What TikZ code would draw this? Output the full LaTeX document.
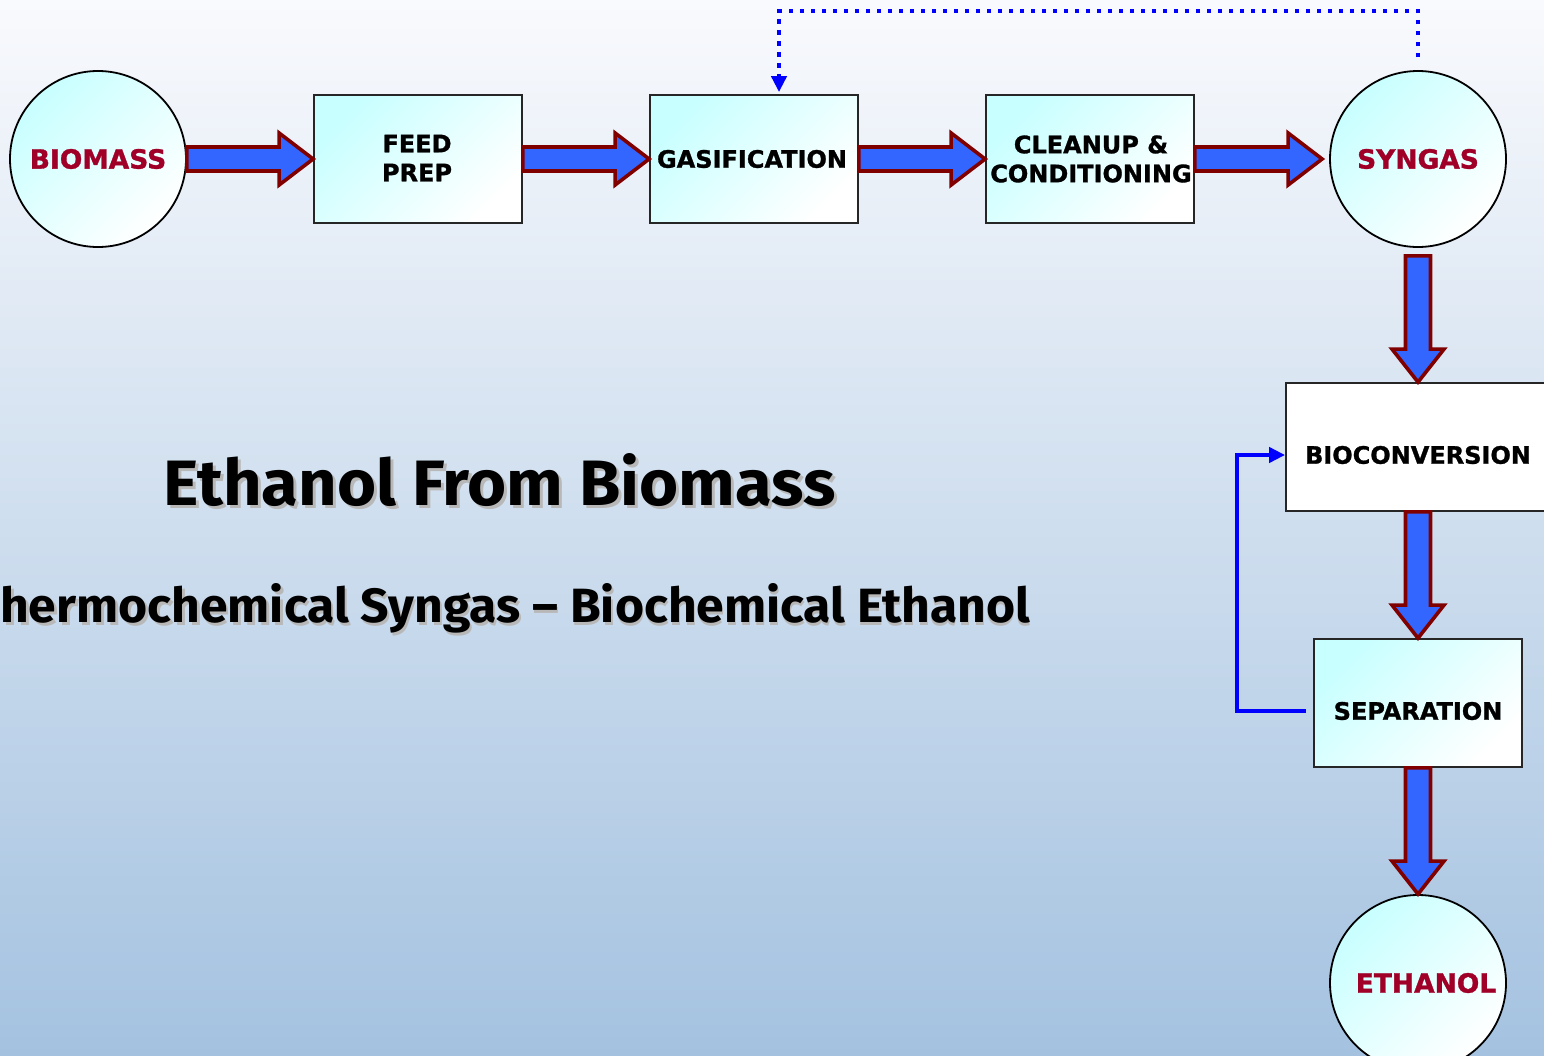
\documentclass[tikz,border=0pt]{standalone}
\usepackage{graphicx}
\usepackage{fontspec}
\setmainfont{DejaVu Sans}[BoldFeatures={FakeBold=1.2}]
\newfontfamily\titlef{Fira Sans}
\usetikzlibrary{calc,arrows.meta}
\definecolor{bgtop}{HTML}{F9FAFD}
\definecolor{bgbot}{HTML}{A4C2E0}
\definecolor{cyanlt}{HTML}{C8FFFF}
\definecolor{txtred}{HTML}{A00028}
\definecolor{arrfill}{HTML}{3366FF}
\definecolor{arredge}{HTML}{800000}
\definecolor{fbblue}{HTML}{0000FF}
\tikzset{
  boxbase/.style={draw=black!85, line width=1.8pt, minimum width=208pt, minimum height=128pt, inner sep=0pt},
  procbox/.style={boxbase, top color=cyanlt, bottom color=white, shading angle=45},
  whitebox/.style={boxbase, fill=white},
  boxtext/.style={inner sep=0pt, align=center, font=\fontsize{24}{29}\selectfont\bfseries},
  endcirc/.style={circle, draw=black, line width=1.8pt, minimum size=176pt, inner sep=0pt, top color=cyanlt, bottom color=white, shading angle=45},
  redtext/.style={inner sep=0pt, text=txtred, font=\fontsize{26.5}{30}\selectfont\bfseries},
  barrow/.style={fill=arrfill, draw=arredge, line width=3.6pt, line join=miter},
  dotline/.style={draw=fbblue, line width=4.5pt, dash pattern=on 4.5pt off 6.5pt},
  fbline/.style={draw=fbblue, line width=4.5pt},
}
\newcommand\hblockarrow[2]{%
  \draw[barrow] ($(#1)+(0,-12)$) -- ($(#2)+(-34,-12)$) -- ($(#2)+(-34,-26)$) -- (#2)
    -- ($(#2)+(-34,26)$) -- ($(#2)+(-34,12)$) -- ($(#1)+(0,12)$) -- cycle;}
\newcommand\vblockarrow[2]{%
  \draw[barrow] ($(#1)+(-12.5,0)$) -- ($(#2)+(-12.5,-33)$) -- ($(#2)+(-26,-33)$) -- (#2)
    -- ($(#2)+(26,-33)$) -- ($(#2)+(12.5,-33)$) -- ($(#1)+(12.5,0)$) -- cycle;}
\begin{document}
\begin{tikzpicture}[x=1pt,y=-1pt]
\useasboundingbox (0,0) rectangle (1544,1055);
\shade[top color=bgtop, bottom color=bgbot] (0,0) rectangle (1544,1055);

% nodes
\node[endcirc] (bio) at (98,159) {};
\node[redtext] (biot) at (bio.center) {BIOMASS};
\node[procbox] (feed) at (418,159) {};
\node[boxtext] (feedt) at ($(feed.center)+(-1,-1)$) {FEED\\PREP};
\node[procbox] (gas) at (754,159) {};
\node[boxtext] (gast) at ($(gas.center)+(-2,0)$) {GASIFICATION};
\node[procbox] (clean) at (1090,159) {};
\node[boxtext] (cleant) at ($(clean.center)+(1,0)$) {CLEANUP \&\\CONDITIONING};
\node[endcirc] (syn) at (1418,159) {};
\node[redtext] (synt) at (syn.center) {SYNGAS};
\node[whitebox, minimum width=264pt] (bioc) at (1418,447) {};
\node[boxtext] (bioct) at ($(bioc.center)+(0,8)$) {BIOCONVERSION};
\node[procbox] (sep) at (1418,703) {};
\node[boxtext] (sept) at ($(sep.center)+(0,8)$) {SEPARATION};
\node[endcirc] (eth) at (1418,983) {};
\node[redtext] (etht) at ($(eth.center)+(8,0)$) {ETHANOL};

% block arrows
\hblockarrow{bio.east}{feed.west}
\hblockarrow{feed.east}{gas.west}
\hblockarrow{gas.east}{clean.west}
\coordinate (synin) at ($(syn.west)+(-7,0)$);
\hblockarrow{clean.east}{synin}
\coordinate (synout) at ($(syn.south)+(0,8)$);
\vblockarrow{synout}{bioc.north}
\vblockarrow{bioc.south}{sep.north}
\vblockarrow{sep.south}{eth.north}

% dotted recycle
\coordinate (d0) at ($(syn.north)+(0,-13)$);
\coordinate (d1) at ($(gas.north)+(25,-2)$);
\draw[dotline, -{Triangle[length=16pt,width=15pt]}] (d0) -- ++(0,-46) -| (d1);

% feedback loop
\coordinate (f0) at ($(sep.west)+(-7,8)$);
\coordinate (f1) at ($(bioc.west)+(0,8)$);
\draw[fbline, -{Triangle[length=16pt,width=15pt]}] (f0) -- ++(-69,0) |- (f1);

% titles
\node[anchor=base west, inner sep=0pt, text=black!28] (titsh) at (166,508)
  {\resizebox{672pt}{52pt}{\titlef\bfseries Ethanol From Biomass}};
\node[anchor=base west, inner sep=0pt] (tit) at (163,505)
  {\resizebox{672pt}{52pt}{\titlef\bfseries Ethanol From Biomass}};
\node[anchor=base west, inner sep=0pt, text=black!28] (subsh) at (3,625)
  {\resizebox{1027pt}{39pt}{\titlef\bfseries hermochemical Syngas – Biochemical Ethanol}};
\node[anchor=base west, inner sep=0pt] (sub) at (0,622)
  {\resizebox{1030pt}{39pt}{\titlef\bfseries hermochemical Syngas – Biochemical Ethanol}};
\end{tikzpicture}
\end{document}
